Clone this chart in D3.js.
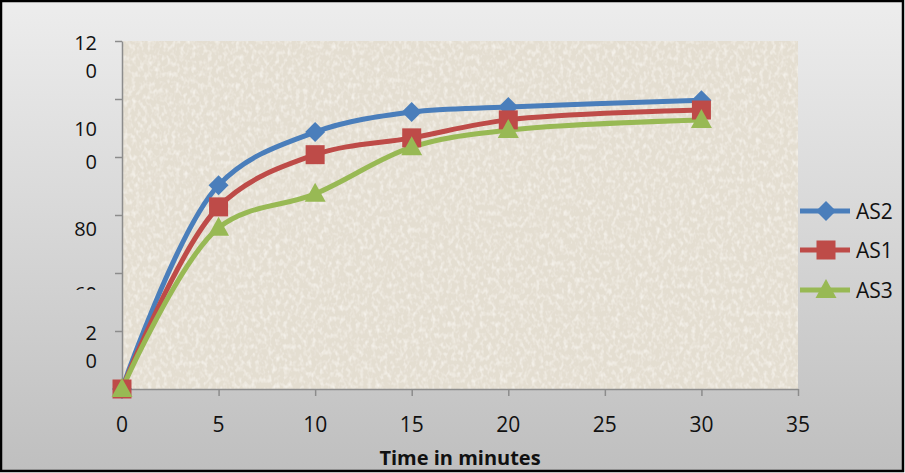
<!DOCTYPE html>
<html>
<head>
<meta charset="utf-8">
<script src="https://cdn.jsdelivr.net/npm/d3@7"></script>
<style>
  body { margin: 0; padding: 0; }
  svg { display: block; font-family: "Open Sans", sans-serif; }
</style>
</head>
<body>
<svg width="905" height="473"></svg>
<script>
// data
var times = [0, 5, 10, 15, 20, 30];
var as2 = [0, 70.3, 88.6, 95.5, 97.2, 99.6];
var as1 = [0, 62.8, 80.8, 86.6, 92.8, 96.2];
var as3 = [0, 55.6, 67.3, 83.4, 89.3, 92.8];
var xTicks = [0, 5, 10, 15, 20, 25, 30, 35];
var yTicks = [0, 20, 40, 60, 80, 100, 120];
// the y labels in the source are broken across lines and shifted
var yLabelText = ['12', '0', '10', '0', '80', '60', '2', '0'];
var yLabelAt = [119.6, 110, 90, 78.3, 55.5, 33.1, 19.6, 10];
var legendNames = ['AS2', 'AS1', 'AS3'];

var svg = d3.select('svg');
var width = 905, height = 473;
var margin = { top: 41, right: 107, bottom: 84, left: 122 };

var defs = svg.append('defs');
var bg = defs.append('linearGradient').attr('id', 'bg')
  .attr('x1', 0).attr('y1', 0).attr('x2', 0).attr('y2', 1);
bg.append('stop').attr('offset', '0%').attr('stop-color', '#ededed');
bg.append('stop').attr('offset', '100%').attr('stop-color', '#bfbfbf');

var tex = defs.append('filter').attr('id', 'tex')
  .attr('x', 0).attr('y', 0).attr('width', 1).attr('height', 1);
tex.append('feTurbulence').attr('type', 'fractalNoise')
  .attr('baseFrequency', '0.25 0.18').attr('numOctaves', 2).attr('seed', 3)
  .attr('result', 'noise');
tex.append('feColorMatrix').attr('in', 'noise').attr('type', 'matrix')
  .attr('values', '0 0 0 0 0.96  0 0 0 0 0.94  0 0 0 0 0.9  0 0 0 -1.6 0.9')
  .attr('result', 'spots');
tex.append('feComposite').attr('in', 'spots').attr('in2', 'SourceGraphic')
  .attr('operator', 'in').attr('result', 'sp');
tex.append('feMerge').call(function(m) {
  m.append('feMergeNode').attr('in', 'SourceGraphic');
  m.append('feMergeNode').attr('in', 'sp');
});

defs.append('clipPath').attr('id', 'cut')
  .append('rect').attr('x', 0).attr('y', 0).attr('width', 120).attr('height', 290);

svg.append('rect')
  .attr('x', 1).attr('y', 1).attr('width', width - 3).attr('height', height - 3)
  .attr('fill', 'url(#bg)').attr('stroke', '#000').attr('stroke-width', 2.5);

var x = d3.scaleLinear().domain([0, 35]).range([margin.left, width - margin.right]);
var y = d3.scaleLinear().domain([0, 120]).range([height - margin.bottom, margin.top]);

svg.append('rect')
  .attr('x', x(0)).attr('y', y(120))
  .attr('width', x(35) - x(0)).attr('height', y(0) - y(120))
  .attr('fill', '#e4ded1')
  .attr('filter', 'url(#tex)');

// axes
svg.append('g')
  .attr('transform', 'translate(0,' + y(0) + ')')
  .call(d3.axisBottom(x).tickValues(xTicks).tickSize(7).tickSizeOuter(0).tickFormat(''));
svg.append('g')
  .attr('transform', 'translate(' + x(0) + ',0)')
  .call(d3.axisLeft(y).tickValues(yTicks).tickSize(7).tickSizeOuter(0).tickFormat(''));
svg.selectAll('.domain, .tick line').attr('stroke', '#8c8c8c').attr('stroke-width', 1.5);

svg.append('g').selectAll('text')
  .data(xTicks).enter().append('text')
  .attr('x', function(d) { return x(d); })
  .attr('y', 424)
  .attr('text-anchor', 'middle').attr('dominant-baseline', 'central')
  .attr('font-size', 21).attr('fill', '#111')
  .text(function(d) { return d; });

svg.append('g').selectAll('text')
  .data(yLabelText).enter().append('text')
  .attr('x', 97)
  .attr('y', function(d, i) { return y(yLabelAt[i]); })
  .attr('text-anchor', 'end').attr('dominant-baseline', 'central')
  .attr('font-size', 20).attr('fill', '#111')
  .attr('clip-path', function(d, i) { return i === 5 ? 'url(#cut)' : null; })
  .text(function(d) { return d; });

svg.append('text')
  .attr('x', 460).attr('y', 457)
  .attr('text-anchor', 'middle').attr('dominant-baseline', 'central')
  .attr('font-size', 20).attr('font-weight', 'bold').attr('fill', '#111')
  .text('Time in minutes');

// series
var series = [
  { name: 'AS2', values: as2, color: '#4a7ebb', shape: 'diamond' },
  { name: 'AS1', values: as1, color: '#be4b48', shape: 'square' },
  { name: 'AS3', values: as3, color: '#98b954', shape: 'triangle' }
];

function marker(sel, shape, color) {
  if (shape === 'diamond') {
    sel.append('path').attr('d', 'M0,-10L10,0L0,10L-10,0Z').attr('fill', color);
  } else if (shape === 'square') {
    sel.append('rect').attr('x', -9.5).attr('y', -9.5).attr('width', 19).attr('height', 19).attr('fill', color);
  } else {
    sel.append('path').attr('d', 'M0,-11L10.5,8L-10.5,8Z').attr('fill', color);
  }
}

var line = d3.line()
  .x(function(d, i) { return x(times[i]); })
  .y(function(d) { return y(d); })
  .curve(d3.curveCatmullRom.alpha(0.5));

series.forEach(function(s) {
  svg.append('path')
    .attr('d', line(s.values))
    .attr('fill', 'none')
    .attr('stroke', s.color)
    .attr('stroke-width', 5)
    .attr('stroke-linejoin', 'round');
});
series.forEach(function(s) {
  svg.append('g').selectAll('g')
    .data(s.values).enter().append('g')
    .attr('transform', function(d, i) { return 'translate(' + x(times[i]) + ',' + y(d) + ')'; })
    .each(function() { marker(d3.select(this), s.shape, s.color); });
});

// legend
var legend = svg.append('g');
var legendY = [211, 250, 290];
series.forEach(function(s, i) {
  var g = legend.append('g').attr('transform', 'translate(0,' + legendY[i] + ')');
  g.append('line').attr('x1', 800).attr('x2', 850).attr('y1', 0).attr('y2', 0)
    .attr('stroke', s.color).attr('stroke-width', 5);
  marker(g.append('g').attr('transform', 'translate(826,0)'), s.shape, s.color);
  g.append('text').attr('x', 856).attr('y', 0)
    .attr('dominant-baseline', 'central').attr('font-size', 21).attr('fill', '#111')
    .text(legendNames[i]);
});
</script>
</body>
</html>
